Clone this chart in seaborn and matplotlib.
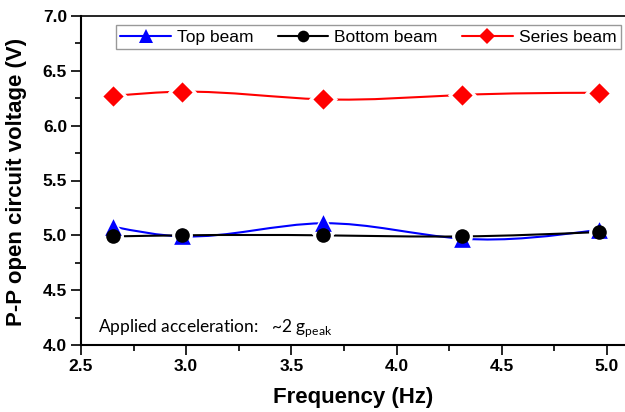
import numpy as np
import pandas as pd
import matplotlib
matplotlib.use("Agg")
import matplotlib.pyplot as plt
from matplotlib.path import Path
from matplotlib.patches import PathPatch
from matplotlib.lines import Line2D
from matplotlib.ticker import MultipleLocator
import seaborn as sns

# ---- data ----
frequency = [2.65, 2.98, 3.65, 4.31, 4.96]
top_beam = [5.08, 4.99, 5.11, 4.97, 5.05]
bottom_beam = [4.99, 5.00, 5.00, 4.99, 5.03]
series_beam = [6.27, 6.31, 6.24, 6.28, 6.30]
series_names = ["Top beam", "Bottom beam", "Series beam"]
x_ticks = [2.5, 3.0, 3.5, 4.0, 4.5, 5.0]
y_ticks = [4.0, 4.5, 5.0, 5.5, 6.0, 6.5, 7.0]
x_label = "Frequency (Hz)"
y_label = "P-P open circuit voltage (V)"
note_text = "Applied acceleration:   ~2 g$_{\\mathregular{peak}}$"

sns.set_theme(style="white")
plt.rcParams["font.family"] = ["Liberation Sans", "DejaVu Sans"]
plt.rcParams["mathtext.fontset"] = "custom"
for key in ["text.color", "axes.labelcolor", "xtick.color", "ytick.color"]:
    plt.rcParams[key] = "black"

fig = plt.figure(figsize=(6.25, 4.12), dpi=100)
ax = fig.add_axes([81 / 625, 67 / 412, 544 / 625, 329 / 412])


def spline_path(x, y):
    """Natural cubic spline through the points, as Bezier segments."""
    x = np.asarray(x, float)
    y = np.asarray(y, float)
    n = len(x)
    h = np.diff(x)
    A = np.zeros((n, n))
    b = np.zeros(n)
    A[0, 0] = A[-1, -1] = 1
    for i in range(1, n - 1):
        A[i, i - 1] = h[i - 1]
        A[i, i] = 2 * (h[i - 1] + h[i])
        A[i, i + 1] = h[i]
        b[i] = 6 * ((y[i + 1] - y[i]) / h[i] - (y[i] - y[i - 1]) / h[i - 1])
    M = np.linalg.solve(A, b)
    verts = [(x[0], y[0])]
    codes = [Path.MOVETO]
    for i in range(n - 1):
        s = (y[i + 1] - y[i]) / h[i]
        d0 = s - h[i] * (2 * M[i] + M[i + 1]) / 6
        d1 = s + h[i] * (M[i] + 2 * M[i + 1]) / 6
        verts += [(x[i] + h[i] / 3, y[i] + d0 * h[i] / 3),
                  (x[i + 1] - h[i] / 3, y[i + 1] - d1 * h[i] / 3),
                  (x[i + 1], y[i + 1])]
        codes += [Path.CURVE4] * 3
    return Path(verts, codes)


styles = [
    (top_beam, "#0000FF", "^", 12.0),
    (bottom_beam, "#000000", "o", 10.5),
    (series_beam, "#FF0000", "D", 10.3),
]

handles = []
for k, (vals, col, mk, ms) in enumerate(styles):
    df = pd.DataFrame({"f": frequency, "v": vals})
    patch = PathPatch(spline_path(frequency, vals), facecolor="none",
                      edgecolor=col, lw=1.5, zorder=2)
    ax.add_patch(patch)
    # white halo (gap around markers)
    halo_ms = ms + 4.5
    sns.scatterplot(data=df, x="f", y="v", marker=mk, s=halo_ms ** 2,
                    color="white", linewidth=0, ax=ax, zorder=3, legend=False)
    sns.scatterplot(data=df, x="f", y="v", marker=mk, s=ms ** 2,
                    color=col, linewidth=0, ax=ax, zorder=4 + k * 0.1,
                    legend=False)
    handles.append(Line2D([], [], color=col, lw=1.5, marker=mk,
                          markersize=ms * 0.8, markeredgewidth=0,
                          label=series_names[k]))

ax.set_xlim(2.5, 2.5 + 544 / 210.4)
ax.set_ylim(4.0, 7.0)
ax.set_xticks(x_ticks, [f"{t:.1f}" for t in x_ticks], fontweight="bold",
              fontsize=12.5)
ax.set_yticks(y_ticks, [f"{t:.1f}" for t in y_ticks], fontweight="bold",
              fontsize=12.5)
ax.xaxis.set_minor_locator(MultipleLocator(0.25))
ax.yaxis.set_minor_locator(MultipleLocator(0.25))
ax.tick_params(which="major", direction="out", length=7, width=1.2,
               pad=3, color="black", labelcolor="black",
               bottom=True, left=True, top=False, right=False)
ax.tick_params(which="minor", direction="out", length=4, width=1.2,
               color="black", bottom=True, left=True, top=False, right=False)

for side in ["left", "bottom"]:
    ax.spines[side].set_linewidth(1.5)
    ax.spines[side].set_color("black")
ax.spines["top"].set_linewidth(1.2)
ax.spines["top"].set_color("black")
ax.spines["right"].set_visible(False)

ax.set_xlabel("")
ax.set_ylabel("")
fig.text(353 / 625, 1 - 397 / 412, x_label, ha="center", va="center",
         fontsize=16, fontweight="bold", color="black")
fig.text(17 / 625, 1 - 182 / 412, y_label, ha="center", va="center",
         rotation=90, fontsize=16, fontweight="bold", color="black")

ax.text(97.7 / 625, 1 - 331.7 / 412, note_text, transform=fig.transFigure,
        ha="left", va="baseline", fontsize=12.5, color="black",
        family=["Lato", "DejaVu Sans"])

leg = ax.legend(handles=handles, loc="lower left", ncol=3,
                bbox_to_anchor=((116 - 81) / 544, (345 - 49.3) / 329,
                                (620.7 - 116) / 544, 27 / 329),
                mode="expand", fontsize=12.5, frameon=True, fancybox=False,
                handlelength=2.9, handletextpad=0.35, columnspacing=1.2,
                borderpad=0.25, borderaxespad=0)
leg.get_frame().set_edgecolor("#808080")
leg.get_frame().set_linewidth(1.0)
for t in leg.get_texts():
    t.set_color("black")

fig.savefig("out.png", dpi=100)
